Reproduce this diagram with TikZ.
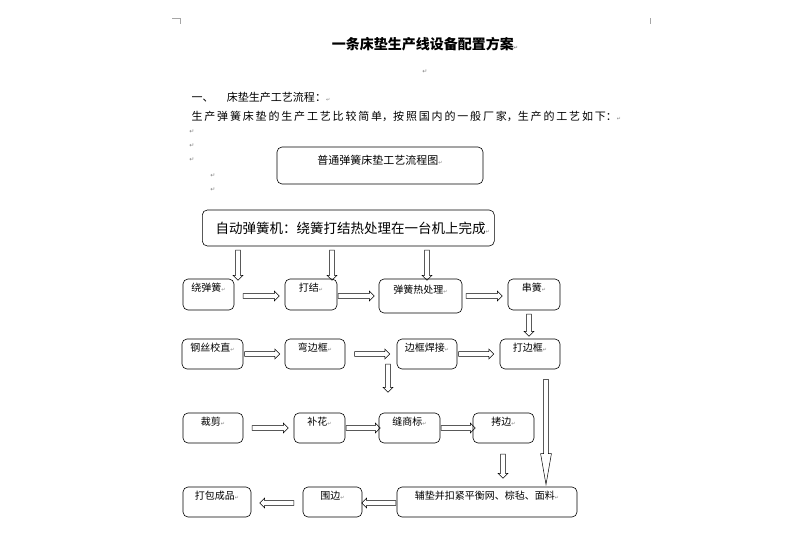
\documentclass[tikz,border=0pt]{standalone}
\usepackage{fontspec}
\setmainfont{Noto Sans CJK SC}
\newfontfamily\djv{DejaVu Sans}
\newcommand{\pmk}{{\djv\fontsize{5}{5}\selectfont\textcolor{gray}{↵}}}
\usetikzlibrary{shapes.arrows}
\begin{document}
\begin{tikzpicture}[x=1pt,y=-1pt,
  box/.style={draw,rounded corners=5pt,line width=0.6pt,font=\fontsize{10}{10}\selectfont,inner sep=0pt},
  harr/.style={single arrow,draw,line width=0.5pt,inner sep=2.2pt,single arrow head extend=2.5pt,minimum height=#1,anchor=center},
  pm/.style={font=\djv\fontsize{6}{6}\selectfont,text=gray}]
\useasboundingbox (0,0) rectangle (800,533);
\draw[gray!70] (172,18)--(180,18)--(180,24) (650,18)--(650,24);
\node[font=\bfseries\fontsize{14}{14}\selectfont] (title) at (425,44) {一条床垫生产线设备配置方案\pmk};
\node[font=\fontsize{11}{11}\selectfont,anchor=west] (h1) at (188,97) {一、\quad\ 床垫生产工艺流程：\pmk};
\node[font=\fontsize{11}{11}\selectfont,anchor=west] (p1) at (188,116) {生\,产\,弹\,簧\,床\,垫\,的\,生\,产\,工\,艺\,比\,较\,简\,单，按\,照\,国\,内\,的\,一\,般\,厂\,家，生\,产\,的\,工\,艺\,如\,下：\pmk};
\node[pm] (m1) at (192,132) {↵};
\node[pm] (m2) at (192,146) {↵};
\node[pm] (m3) at (192,160) {↵};
\node[pm] (m4) at (213,176) {↵};
\node[pm] (m5) at (213,190) {↵};
\node[pm] (m6) at (425,72) {↵};
\node[box,minimum width=206,minimum height=37,font=\fontsize{11}{11}\selectfont,text depth=12pt] (t) at (380,165.5) {普通弹簧床垫工艺流程图\pmk};
\node[box,minimum width=292,minimum height=36,font=\fontsize{13.5}{13.5}\selectfont,anchor=west] (auto) at (202,228) {\hspace{9pt}自动弹簧机：绕簧打结热处理在一台机上完成\pmk};
% row1
\node[box,minimum width=51,minimum height=31,text depth=14pt] (r1a) at (208.5,294.5) {绕弹簧\pmk};
\node[box,minimum width=52,minimum height=31,text depth=14pt] (r1b) at (311,294.5) {打结\pmk};
\node[box,minimum width=83,minimum height=34,text depth=14pt] (r1c) at (420.5,296) {弹簧热处理\pmk};
\node[box,minimum width=52,minimum height=31,text depth=14pt] (r1d) at (534,294.5) {串簧\pmk};
% row2
\node[box,minimum width=61,minimum height=30,text depth=14pt] (r2a) at (212.5,354) {钢丝校直\pmk};
\node[box,minimum width=60,minimum height=30,text depth=14pt] (r2b) at (315,354) {弯边框\pmk};
\node[box,minimum width=60,minimum height=30,text depth=14pt] (r2c) at (427,354) {边框焊接\pmk};
\node[box,minimum width=60,minimum height=30,text depth=14pt] (r2d) at (530,354) {打边框\pmk};
% row3
\node[box,minimum width=60,minimum height=30,text depth=14pt] (r3a) at (213,428) {裁剪\pmk};
\node[box,minimum width=51,minimum height=30,text depth=14pt] (r3b) at (319.5,428) {补花\pmk};
\node[box,minimum width=61,minimum height=30,text depth=14pt] (r3c) at (409.5,428) {缝商标\pmk};
\node[box,minimum width=61,minimum height=30,text depth=14pt] (r3d) at (503.5,428) {拷边\pmk};
% row4
\node[box,minimum width=68,minimum height=30,text depth=14pt] (r4a) at (217,502) {打包成品\pmk};
\node[box,minimum width=59,minimum height=30,text depth=14pt] (r4b) at (332.5,502) {围边\pmk};
\node[box,minimum width=180,minimum height=30,text depth=14pt] (r4c) at (487,502) {辅垫并扣紧平衡网、棕毡、面料\pmk};
% arrows
\node[harr=30,rotate=-90] (d1) at (238,264) {};
\node[harr=30,rotate=-90] (d2) at (332,264) {};
\node[harr=30,rotate=-90] (d3) at (427,264) {};
\node[harr=36] (h11) at (260,296) {};
\node[harr=36] (h12) at (355,296) {};
\node[harr=36] (h13) at (483,296) {};
\node[harr=22,rotate=-90] (d4) at (529,324) {};
\node[harr=35] (h21) at (261,354) {};
\node[harr=35] (h22) at (371,354) {};
\node[harr=35] (h23) at (475,354) {};
\node[harr=28,rotate=-90] (d5) at (388,377) {};
\node[harr=36] (h31) at (269,428) {};
\node[harr=34] (h32) at (362,428) {};
\node[harr=34] (h33) at (457,428) {};
\node[harr=24,rotate=-90] (d6) at (503,465) {};
\node[harr=105,rotate=-90,single arrow head extend=3pt,single arrow tip angle=20] (d7) at (546,425) {};
\node[harr=34,rotate=180] (h41) at (380,503) {};
\node[harr=34,rotate=180] (h42) at (278,503) {};
\end{tikzpicture}
\end{document}
